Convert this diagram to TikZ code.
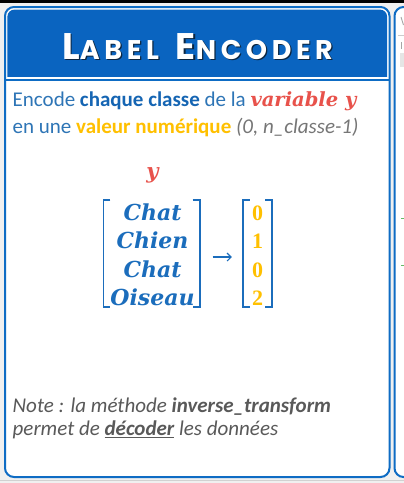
\documentclass[tikz,border=0pt]{standalone}
\usepackage{fontspec}
\usetikzlibrary{arrows.meta}
\setmainfont{Carlito}
\newfontfamily\titlefont{Poppins}[LetterSpace=17]
\newfontfamily\mserif{DejaVu Serif}
\newfontfamily\nserif{Liberation Serif}
\definecolor{cardblue}{HTML}{0E6CC4}
\definecolor{headblue}{HTML}{0A64C0}
\definecolor{txtblue}{HTML}{2E75B6}
\definecolor{deepblue}{HTML}{1565B3}
\definecolor{mxblue}{HTML}{1B6DBC}
\definecolor{redvar}{HTML}{E8524B}
\definecolor{goldv}{HTML}{FFC000}
\definecolor{greytxt}{HTML}{767676}
\definecolor{notegrey}{HTML}{595959}
\definecolor{pagebg}{HTML}{F0F0F0}
\definecolor{shadowc}{HTML}{0B2540}
\tikzset{
  bodytext/.style={anchor=base west, inner sep=0pt, font=\fontsize{21}{24}\selectfont},
  entry/.style={anchor=base, inner sep=0pt, text=mxblue, font=\mserif\bfseries\itshape\fontsize{22}{24}\selectfont},
  digit/.style={anchor=base, inner sep=0pt, text=goldv, font=\nserif\bfseries\fontsize{22}{24}\selectfont},
  bracket/.style={draw=mxblue, line width=1.6pt},
  holder/.style={draw=none, inner sep=0pt},
  titletxt/.style={inner sep=0pt, anchor=base, font=\titlefont\bfseries},
  fragment/.style={black!35, line width=0.9pt},
}
\newcommand{\titlestring}{{\fontsize{37}{37}\selectfont L}{\fontsize{27}{27}\selectfont ABEL}\hspace{17pt}{\fontsize{37}{37}\selectfont E}{\fontsize{27}{27}\selectfont NCODER}}
\begin{document}
\begin{tikzpicture}[x=1pt,y=-1pt]
\useasboundingbox (0,0) rectangle (404,483);
% page background and top strip
\fill[pagebg] (0,0) rectangle (404,483);
\fill[black] (0,0) rectangle (404,3.3);
\draw[black!18, line width=0.8pt] (0,480.5) -- (404,480.5);

% neighbouring card at the right edge
\begin{scope}
  \clip (0,0) rectangle (404,483);
  \draw[cardblue, line width=2pt, fill=white, rounded corners=9] (394.5,7) rectangle (440,477);
  \draw[fragment] (401,17) -- (403.5,25);
  \draw[black!20, line width=0.8pt] (398,35) -- (404,35);
  \draw[fragment] (401.5,42) -- (401.5,49);
  \fill[black!10] (400,53) rectangle (404,67);
  \draw[green!55!black!60, line width=0.9pt] (401,218) -- (404,218);
  \draw[green!55!black!60, line width=0.9pt] (401,265) -- (404,265);
\end{scope}

% the card
\draw[cardblue, line width=2pt, fill=white, rounded corners=9] (5,7) rectangle (389.5,477);
\begin{scope}
  \clip (0,0) rectangle (404,76.2);
  \fill[headblue, rounded corners=7] (7.4,9.6) rectangle (387.1,110);
\end{scope}
\draw[cardblue, line width=2.2pt] (5,79.8) -- (389.5,79.8);

% title with drop shadow
\node[titletxt, text=shadowc] (titleshadow) at (198.8,60.4) {\titlestring};
\node[titletxt, text=white] (title) at (197.6,59.2) {\titlestring};

% description
\node[bodytext] (line1) at (12.5,106.5) {\textcolor{txtblue}{Encode} \textcolor{deepblue}{\bfseries chaque classe} \textcolor{txtblue}{de la} \textcolor{redvar}{\mserif\bfseries\itshape\fontsize{19.5}{22}\selectfont variable y}};
\node[bodytext] (line2) at (12.5,133.2) {\textcolor{txtblue}{en une} \textcolor{goldv}{\bfseries valeur numérique} \textcolor{greytxt}{\itshape (0, n\_classe-1)}};

% the variable and its encoding
\node[anchor=base, inner sep=0pt, text=redvar, font=\mserif\bfseries\itshape\fontsize{21}{22}\selectfont] (yvar) at (152.5,178) {y};

\node[holder, minimum width=96pt, minimum height=107pt] (lm) at (151.5,253.5) {};
\node[entry] (e1) at (152.5,220) {Chat};
\node[entry] (e2) at (152.5,248.5) {Chien};
\node[entry] (e3) at (152.5,277) {Chat};
\node[entry] (e4) at (152.5,305.5) {Oiseau};
\draw[bracket] ([xshift=7pt]lm.north west) -- (lm.north west) -- (lm.south west) -- ([xshift=7pt]lm.south west);
\draw[bracket] ([xshift=-7pt]lm.north east) -- (lm.north east) -- (lm.south east) -- ([xshift=-7pt]lm.south east);

\node[holder, minimum width=29pt, minimum height=107pt] (rv) at (257.5,253.5) {};
\node[digit] (d1) at (257.5,220) {0};
\node[digit] (d2) at (257.5,248.5) {1};
\node[digit] (d3) at (257.5,277) {0};
\node[digit] (d4) at (257.5,305.5) {2};
\draw[bracket] ([xshift=7pt]rv.north west) -- (rv.north west) -- (rv.south west) -- ([xshift=7pt]rv.south west);
\draw[bracket] ([xshift=-7pt]rv.north east) -- (rv.north east) -- (rv.south east) -- ([xshift=-7pt]rv.south east);

\draw[mxblue, line width=1.1pt, -{Straight Barb[length=4pt,width=8pt]}, shorten <=13pt, shorten >=11pt]
  ([yshift=-3.5pt]lm.east) -- ([yshift=-3.5pt]rv.west);

% note
\node[bodytext, text=notegrey, font=\itshape\fontsize{21}{24}\selectfont] (note1) at (12.5,412) {Note : la méthode \textbf{inverse\_transform}};
\node[bodytext, text=notegrey, font=\itshape\fontsize{21}{24}\selectfont] (note2) at (12.5,435.5) {permet de \textbf{\underline{décoder}} les données};
\end{tikzpicture}
\end{document}
